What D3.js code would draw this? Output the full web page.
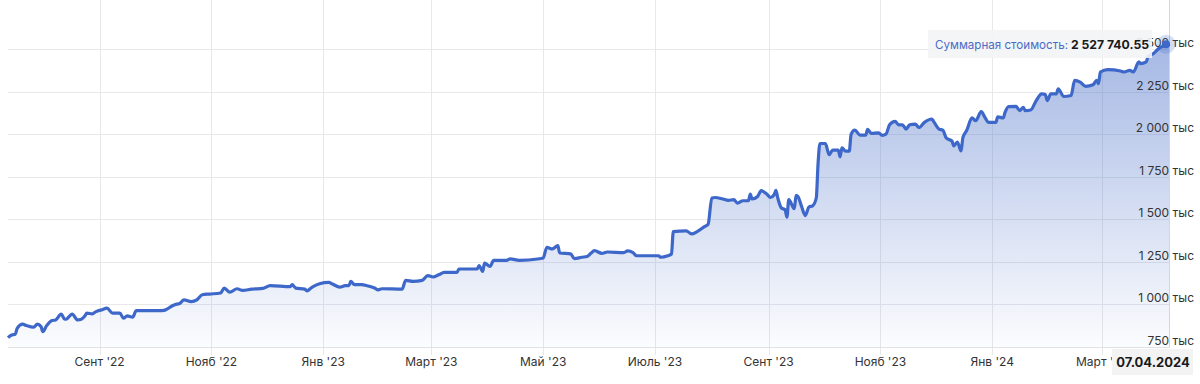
<!DOCTYPE html>
<meta charset="utf-8">
<style>
body { margin: 0; background: #fff; font-family: Inter, Roboto, "Noto Sans", Arial, sans-serif; }
.grid line { stroke: #e8e8ea; stroke-width: 1; shape-rendering: crispEdges; }
.tick-label { font-size: 12px; fill: #333; }
</style>
<body>
<div id="chart"></div>
<script src="https://d3js.org/d3.v7.min.js"></script>
<script>

// portfolio value, thousands
var dates = [
  "2022-07-13","2022-07-15","2022-07-17","2022-07-18","2022-07-21","2022-07-23","2022-07-27","2022-07-29","2022-07-31","2022-08-01",
  "2022-08-03","2022-08-06","2022-08-08","2022-08-11","2022-08-13","2022-08-14","2022-08-17","2022-08-20","2022-08-22","2022-08-24",
  "2022-08-25","2022-08-28","2022-08-30","2022-09-02","2022-09-05","2022-09-08","2022-09-12","2022-09-14","2022-09-16","2022-09-19",
  "2022-09-21","2022-10-05","2022-10-07","2022-10-10","2022-10-12","2022-10-15","2022-10-17","2022-10-21","2022-10-24","2022-10-27",
  "2022-10-31","2022-11-06","2022-11-08","2022-11-11","2022-11-15","2022-11-18","2022-11-23","2022-11-29","2022-12-03","2022-12-14",
  "2022-12-15","2022-12-17","2022-12-22","2022-12-23","2022-12-26","2022-12-30","2023-01-04","2023-01-06","2023-01-10","2023-01-13",
  "2023-01-15","2023-01-16","2023-01-18","2023-01-22","2023-01-25","2023-01-29","2023-01-31","2023-02-02","2023-02-13","2023-02-15",
  "2023-02-19","2023-02-24","2023-02-27","2023-03-02","2023-03-05","2023-03-08","2023-03-15","2023-03-16","2023-03-26","2023-03-27",
  "2023-03-29","2023-03-30","2023-04-02","2023-04-04","2023-04-11","2023-04-13","2023-04-18","2023-04-28","2023-05-01","2023-05-03",
  "2023-05-06","2023-05-09","2023-05-10","2023-05-16","2023-05-18","2023-05-22","2023-05-25","2023-05-27","2023-05-29","2023-06-02",
  "2023-06-05","2023-06-14","2023-06-16","2023-06-19","2023-06-21","2023-07-03","2023-07-04","2023-07-08","2023-07-10","2023-07-11",
  "2023-07-18","2023-07-21","2023-07-24","2023-07-28","2023-07-30","2023-08-01","2023-08-03","2023-08-07","2023-08-10","2023-08-13",
  "2023-08-15","2023-08-18","2023-08-21","2023-08-22","2023-08-23","2023-08-26","2023-08-28","2023-08-31","2023-09-02","2023-09-04",
  "2023-09-05","2023-09-06","2023-09-08","2023-09-10","2023-09-11","2023-09-12","2023-09-15","2023-09-16","2023-09-17","2023-09-19",
  "2023-09-21","2023-09-23","2023-09-25","2023-09-27","2023-09-28","2023-09-29","2023-10-02","2023-10-04","2023-10-06","2023-10-09",
  "2023-10-10","2023-10-11","2023-10-13","2023-10-15","2023-10-16","2023-10-18","2023-10-21","2023-10-24","2023-10-25","2023-10-27",
  "2023-10-31","2023-11-02","2023-11-04","2023-11-06","2023-11-09","2023-11-11","2023-11-13","2023-11-15","2023-11-17","2023-11-20",
  "2023-11-22","2023-11-25","2023-11-29","2023-11-30","2023-12-03","2023-12-05","2023-12-07","2023-12-10","2023-12-11","2023-12-13",
  "2023-12-15","2023-12-16","2023-12-18","2023-12-21","2023-12-23","2023-12-26","2023-12-28","2023-12-30","2024-01-03","2024-01-04",
  "2024-01-07","2024-01-08","2024-01-10","2024-01-14","2024-01-16","2024-01-18","2024-01-19","2024-01-22","2024-01-25","2024-01-28",
  "2024-01-30","2024-01-31","2024-02-02","2024-02-05","2024-02-06","2024-02-09","2024-02-13","2024-02-15","2024-02-18","2024-02-21",
  "2024-02-25","2024-02-27","2024-02-28","2024-02-29","2024-03-04","2024-03-11","2024-03-13","2024-03-16","2024-03-18","2024-03-21",
  "2024-03-22","2024-03-25","2024-03-26","2024-03-29","2024-04-01","2024-04-03","2024-04-07"
];
var values = [
  805, 821, 825, 860, 884, 876, 866, 884, 870, 840,
  874, 905, 909, 943, 913, 915, 943, 909, 913, 933,
  949, 945, 958, 968, 978, 949, 949, 919, 933, 925,
  964, 964, 968, 988, 998, 1008, 1027, 1017, 1027, 1057,
  1061, 1067, 1096, 1072, 1092, 1082, 1090, 1094, 1110, 1104,
  1116, 1096, 1090, 1080, 1102, 1121, 1129, 1120, 1102, 1110,
  1110, 1135, 1116, 1116, 1110, 1096, 1086, 1092, 1090, 1141,
  1135, 1141, 1169, 1161, 1174, 1188, 1188, 1208, 1208, 1228,
  1194, 1243, 1223, 1259, 1259, 1267, 1259, 1267, 1273, 1335,
  1326, 1345, 1302, 1297, 1269, 1277, 1282, 1300, 1316, 1300,
  1308, 1304, 1314, 1304, 1286, 1286, 1277, 1286, 1296, 1428,
  1432, 1414, 1428, 1457, 1471, 1625, 1628, 1619, 1611, 1615,
  1595, 1609, 1609, 1648, 1619, 1634, 1668, 1648, 1628, 1644,
  1670, 1625, 1566, 1556, 1513, 1615, 1562, 1640, 1634, 1575,
  1522, 1572, 1579, 1625, 1831, 1945, 1945, 1880, 1906, 1906,
  1867, 1920, 1900, 1900, 1998, 2024, 1994, 1994, 2028, 2004,
  2008, 1993, 2000, 2055, 2075, 2055, 2055, 2030, 2055, 2059,
  2039, 2069, 2089, 2075, 2030, 2024, 1976, 1960, 1931, 1954,
  1901, 1980, 2020, 2095, 2079, 2132, 2099, 2069, 2069, 2102,
  2095, 2128, 2162, 2163, 2138, 2158, 2138, 2142, 2197, 2237,
  2233, 2197, 2237, 2237, 2266, 2221, 2227, 2316, 2306, 2281,
  2290, 2316, 2296, 2365, 2379, 2371, 2365, 2375, 2365, 2424,
  2414, 2424, 2454, 2474, 2504, 2515, 2527.74055
];

var yTicks = [750, 1000, 1250, 1500, 1750, 2000, 2250, 2500];
var yTickLabels = ["750 тыс", "1 000 тыс", "1 250 тыс", "1 500 тыс", "1 750 тыс", "2 000 тыс", "2 250 тыс", "2 500 тыс"];
var xTicks = ["2022-09-01","2022-11-01","2023-01-01","2023-03-01","2023-05-01","2023-07-01","2023-09-01","2023-11-01","2024-01-01","2024-03-01"];
var xTickLabels = ["Сент '22","Нояб '22","Янв '23","Март '23","Май '23","Июль '23","Сент '23","Нояб '23","Янв '24","Март '24"];

var tooltipLabel = "Суммарная стоимость:";
var tooltipValue = "2 527 740.55";
var tooltipDate = "07.04.2024";

var width = 1200, height = 384;
var plot = {left: 8, right: 1170, top: 0, bottom: 347};

var parse = d3.utcParse("%Y-%m-%d");
var data = dates.map(function(d, i) { return {date: parse(d), value: values[i]}; });

var x = d3.scaleUtc()
  .domain([parse(dates[0]), parse(dates[dates.length - 1])])
  .range([plot.left, plot.right]);
var y = d3.scaleLinear().domain([750, 2500]).range([plot.bottom, 49]);

var svg = d3.select("#chart").append("svg")
  .attr("width", width)
  .attr("height", height);

var defs = svg.append("defs");
var grad = defs.append("linearGradient")
  .attr("id", "areaGrad")
  .attr("gradientUnits", "userSpaceOnUse")
  .attr("x1", 0).attr("x2", 0)
  .attr("y1", 40).attr("y2", plot.bottom);
grad.append("stop").attr("offset", "0%").attr("stop-color", "#4a70c8").attr("stop-opacity", 0.5);
grad.append("stop").attr("offset", "100%").attr("stop-color", "#4a70c8").attr("stop-opacity", 0.02);

// horizontal grid
svg.append("g").attr("class", "grid")
  .selectAll("line")
  .data(yTicks)
  .enter().append("line")
  .attr("x1", plot.left).attr("x2", plot.right)
  .attr("y1", d => Math.round(y(d)) + 0.5)
  .attr("y2", d => Math.round(y(d)) + 0.5);

// vertical grid
svg.append("g").attr("class", "grid")
  .selectAll("line")
  .data(xTicks)
  .enter().append("line")
  .attr("x1", d => Math.round(x(parse(d))) + 0.5)
  .attr("x2", d => Math.round(x(parse(d))) + 0.5)
  .attr("y1", plot.top).attr("y2", plot.bottom + 8);

// area + line
var area = d3.area()
  .x(d => x(d.date))
  .y0(plot.bottom)
  .y1(d => y(d.value))
  .curve(d3.curveMonotoneX);

var line = d3.line()
  .x(d => x(d.date))
  .y(d => y(d.value))
  .curve(d3.curveMonotoneX);

svg.append("path")
  .datum(data)
  .attr("d", area)
  .attr("fill", "url(#areaGrad)");

// bottom axis line
svg.append("line")
  .attr("x1", plot.left).attr("x2", plot.right)
  .attr("y1", plot.bottom + 0.5).attr("y2", plot.bottom + 0.5)
  .attr("stroke", "#e2e2e4");

// crosshair at the last point
svg.append("line")
  .attr("x1", plot.right - 0.5).attr("x2", plot.right - 0.5)
  .attr("y1", plot.top).attr("y2", plot.bottom)
  .attr("stroke", "#d4d6dc");

svg.append("path")
  .datum(data)
  .attr("d", line)
  .attr("fill", "none")
  .attr("stroke", "#3d68c9")
  .attr("stroke-width", 3.2)
  .attr("stroke-linejoin", "round");

// x tick labels
svg.append("g")
  .selectAll("text")
  .data(xTicks)
  .enter().append("text")
  .attr("class", "tick-label")
  .attr("x", d => x(parse(d)))
  .attr("y", 366)
  .attr("text-anchor", "middle")
  .text((d, i) => xTickLabels[i]);

// y tick labels
svg.append("g")
  .selectAll("text")
  .data(yTicks)
  .enter().append("text")
  .attr("class", "tick-label")
  .attr("x", 1194)
  .attr("y", d => y(d) - 2)
  .attr("text-anchor", "end")
  .text((d, i) => yTickLabels[i]);

// last point marker
var last = data[data.length - 1];
svg.append("circle")
  .attr("cx", x(last.date) - 4).attr("cy", y(last.value))
  .attr("r", 9.5)
  .attr("fill", "#3d68c9").attr("fill-opacity", 0.22);
svg.append("circle")
  .attr("cx", x(last.date) - 4).attr("cy", y(last.value))
  .attr("r", 4)
  .attr("fill", "#3d68c9");

// value tooltip
var tip = svg.append("g");
tip.append("rect")
  .attr("x", 928).attr("y", 30)
  .attr("width", 224).attr("height", 28)
  .attr("fill", "#f3f4f6").attr("fill-opacity", 0.9);
var tipText = tip.append("text")
  .attr("x", 935).attr("y", 49);
tipText.append("tspan").attr("fill", "#4a6cc6").style("font-size", "11.6px").text(tooltipLabel);
tipText.append("tspan").attr("fill", "#1a1a1a").attr("font-weight", "bold").style("font-size", "12.2px").text(" " + tooltipValue);

// date tooltip
svg.append("rect")
  .attr("x", 1112).attr("y", 349)
  .attr("width", 81).attr("height", 26)
  .attr("fill", "#f3f3f4");
svg.append("text")
  .attr("x", 1153).attr("y", 367)
  .attr("text-anchor", "middle")
  .attr("font-weight", "bold")
  .style("font-size", "13px")
  .attr("fill", "#1a1a1a")
  .text(tooltipDate);

</script>
</body>
